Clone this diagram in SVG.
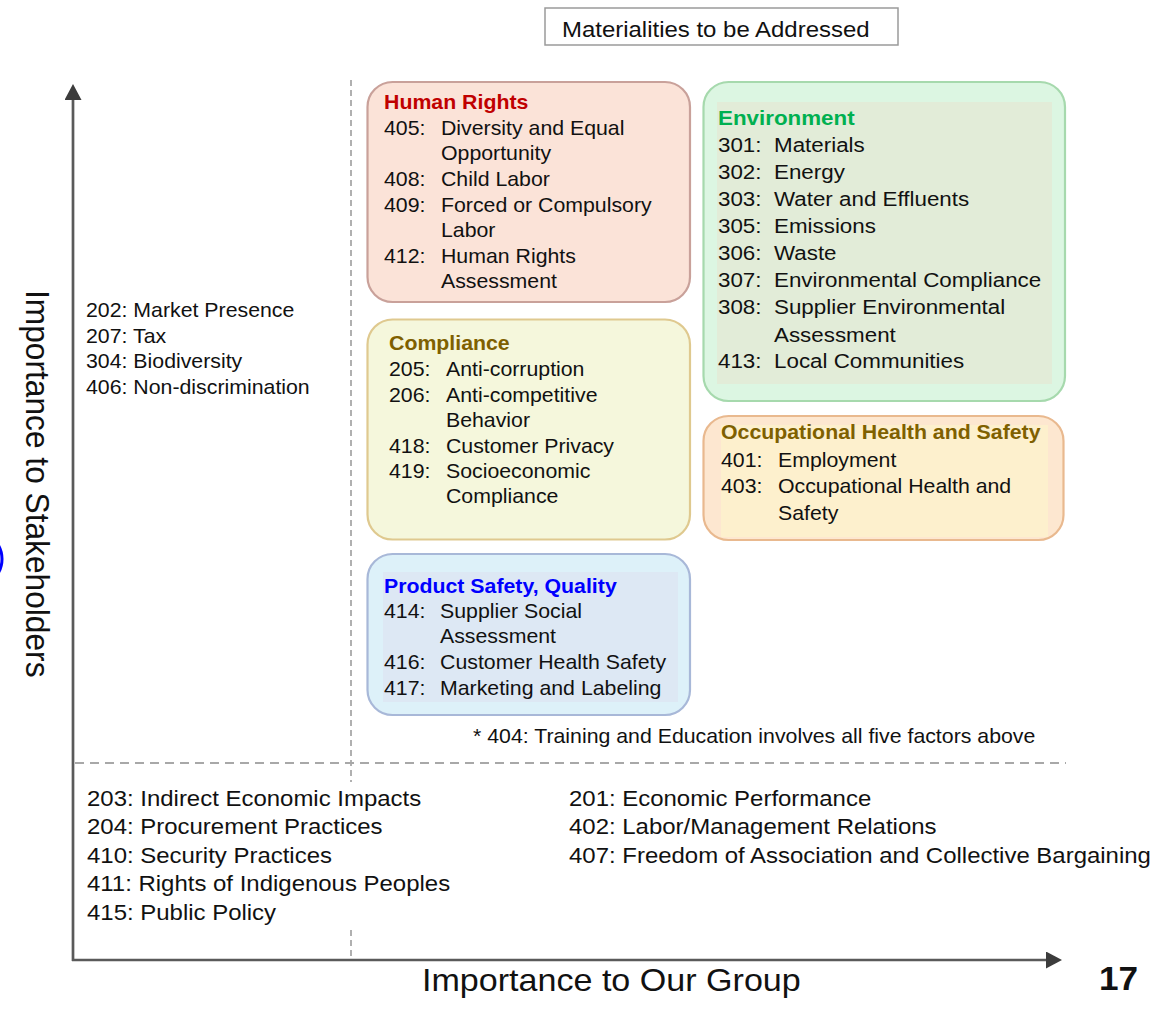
<svg xmlns="http://www.w3.org/2000/svg" width="1163" height="1013" viewBox="0 0 1163 1013">
  <style>
    text { font-family: "Liberation Sans", Arial, sans-serif; fill: #111; }
    .t20 { font-size: 20px; }
    .t21 { font-size: 21px; }
    .t22 { font-size: 22.5px; }
    .title { font-weight: bold; }
    .axis { stroke: #5a5a5a; stroke-width: 2.7; fill: none; }
    .grid-v { stroke: #b0b0b0; stroke-width: 2; stroke-dasharray: 6 4; fill: none; }
    .grid-h { stroke: #a8a8a8; stroke-width: 2; stroke-dasharray: 9 6; fill: none; }
    .box { stroke-width: 2.2; }
  </style>
  <defs>
    <marker id="arrow" markerUnits="userSpaceOnUse" markerWidth="17" markerHeight="17" refX="1" refY="8.5" orient="auto">
      <path d="M0,0 L16,8.5 L0,17 z" fill="#3c3c3c"/>
    </marker>
  </defs>

  <rect width="1163" height="1013" fill="#ffffff"/>

  <!-- quadrant guides and axes -->
  <g id="axes">
    <line class="grid-v" x1="351" y1="80" x2="351" y2="960"/>
    <line class="grid-h" x1="75" y1="763" x2="1066" y2="763"/>
    <line class="axis" x1="73" y1="961" x2="73" y2="99" marker-end="url(#arrow)"/>
    <line class="axis" x1="72" y1="960" x2="1047" y2="960" marker-end="url(#arrow)"/>
  </g>

  <!-- partial blue ring at the left edge -->
  <circle cx="-26" cy="559" r="28" fill="none" stroke="#0000ff" stroke-width="3"/>

  <!-- heading box -->
  <g id="heading">
    <rect x="545" y="8" width="353" height="37" fill="#ffffff" stroke="#9a9a9a" stroke-width="1.5"/>
    <g transform="translate(562,0) scale(1.065 1)">
      <text class="t22" x="0" y="37">Materialities to be Addressed</text>
    </g>
  </g>

  <!-- axis labels -->
  <g id="axis-labels">
    <g transform="translate(26,290) scale(1.065 1) rotate(90)">
      <text x="0" y="0" style="font-size:31.7px">Importance to Stakeholders</text>
    </g>
    <g transform="translate(422,0) scale(1.065 1)">
      <text x="0" y="991" style="font-size:32px">Importance to Our Group</text>
    </g>
    <g transform="translate(1099,0) scale(1.065 1)">
      <text x="0" y="990.5" style="font-size:33px;font-weight:bold">17</text>
    </g>
  </g>

  <!-- upper-left quadrant list -->
  <g id="upper-left">
    <g transform="translate(86,0) scale(1.065 1)">
      <text class="t20" x="0" y="317">202: Market Presence</text>
      <text class="t20" x="0" y="343">207: Tax</text>
      <text class="t20" x="0" y="368">304: Biodiversity</text>
      <text class="t20" x="0" y="394">406: Non-discrimination</text>
    </g>
  </g>

  <!-- Human Rights -->
  <g id="human-rights">
    <rect class="box" x="367.5" y="82" width="322.5" height="220" rx="25" fill="#fbe3d8" stroke="#c9a19a"/>
    <g transform="translate(384,0) scale(1.065 1)">
      <text class="t20 title" x="0" y="109.3" style="fill:#c00000">Human Rights</text>
      <text class="t20" x="0" y="135">405:</text><text class="t20" x="53.5" y="135">Diversity and Equal</text>
      <text class="t20" x="53.5" y="160.5">Opportunity</text>
      <text class="t20" x="0" y="186">408:</text><text class="t20" x="53.5" y="186">Child Labor</text>
      <text class="t20" x="0" y="211.7">409:</text><text class="t20" x="53.5" y="211.7">Forced or Compulsory</text>
      <text class="t20" x="53.5" y="236.7">Labor</text>
      <text class="t20" x="0" y="262.7">412:</text><text class="t20" x="53.5" y="262.7">Human Rights</text>
      <text class="t20" x="53.5" y="288">Assessment</text>
    </g>
  </g>

  <!-- Environment -->
  <g id="environment">
    <rect class="box" x="703.5" y="82" width="361.5" height="319" rx="25" fill="#dcf6e2" stroke="#a6d9ad"/>
    <rect x="717" y="102" width="335" height="282" fill="#e2ecd8"/>
    <g transform="translate(718,0) scale(1.065 1)">
      <text class="t21 title" x="0" y="125" style="fill:#00b050">Environment</text>
      <text class="t21" x="0" y="151.7">301:</text><text class="t21" x="52.6" y="151.7">Materials</text>
      <text class="t21" x="0" y="179">302:</text><text class="t21" x="52.6" y="179">Energy</text>
      <text class="t21" x="0" y="206">303:</text><text class="t21" x="52.6" y="206">Water and Effluents</text>
      <text class="t21" x="0" y="232.7">305:</text><text class="t21" x="52.6" y="232.7">Emissions</text>
      <text class="t21" x="0" y="260">306:</text><text class="t21" x="52.6" y="260">Waste</text>
      <text class="t21" x="0" y="287">307:</text><text class="t21" x="52.6" y="287">Environmental Compliance</text>
      <text class="t21" x="0" y="314">308:</text><text class="t21" x="52.6" y="314">Supplier Environmental</text>
      <text class="t21" x="52.6" y="341.7">Assessment</text>
      <text class="t21" x="0" y="368">413:</text><text class="t21" x="52.6" y="368">Local Communities</text>
    </g>
  </g>

  <!-- Compliance -->
  <g id="compliance">
    <rect class="box" x="367.5" y="319.5" width="322.5" height="220" rx="25" fill="#f5f7dc" stroke="#dfc98f"/>
    <g transform="translate(389,0) scale(1.065 1)">
      <text class="t20 title" x="0" y="350" style="fill:#7f6000">Compliance</text>
      <text class="t20" x="0" y="376">205:</text><text class="t20" x="53.5" y="376">Anti-corruption</text>
      <text class="t20" x="0" y="401.7">206:</text><text class="t20" x="53.5" y="401.7">Anti-competitive</text>
      <text class="t20" x="53.5" y="426.7">Behavior</text>
      <text class="t20" x="0" y="452.7">418:</text><text class="t20" x="53.5" y="452.7">Customer Privacy</text>
      <text class="t20" x="0" y="477.7">419:</text><text class="t20" x="53.5" y="477.7">Socioeconomic</text>
      <text class="t20" x="53.5" y="503.3">Compliance</text>
    </g>
  </g>

  <!-- Occupational Health and Safety -->
  <g id="occupational-health">
    <rect class="box" x="703.5" y="416" width="360" height="124" rx="25" fill="#fde7d0" stroke="#e9b98f"/>
    <rect x="721" y="425" width="327" height="112" fill="#fdf0cd"/>
    <g transform="translate(721,0) scale(1.065 1)">
      <text class="t20 title" x="0" y="439.3" style="fill:#7f6000">Occupational Health and Safety</text>
      <text class="t20" x="0" y="467.3">401:</text><text class="t20" x="53.5" y="467.3">Employment</text>
      <text class="t20" x="0" y="493.3">403:</text><text class="t20" x="53.5" y="493.3">Occupational Health and</text>
      <text class="t20" x="53.5" y="520">Safety</text>
    </g>
  </g>

  <!-- Product Safety, Quality -->
  <g id="product-safety">
    <rect class="box" x="367.5" y="554" width="322.5" height="161" rx="25" fill="#ddf1f9" stroke="#a8b8d8"/>
    <rect x="383" y="572" width="295" height="130" fill="#dde8f4"/>
    <g transform="translate(384,0) scale(1.065 1)">
      <text class="t20 title" x="0" y="592.7" style="fill:#0000ff">Product Safety, Quality</text>
      <text class="t20" x="0" y="618.3">414:</text><text class="t20" x="52.6" y="618.3">Supplier Social</text>
      <text class="t20" x="52.6" y="643.3">Assessment</text>
      <text class="t20" x="0" y="669.3">416:</text><text class="t20" x="52.6" y="669.3">Customer Health Safety</text>
      <text class="t20" x="0" y="695">417:</text><text class="t20" x="52.6" y="695">Marketing and Labeling</text>
    </g>
  </g>

  <!-- footnote -->
  <g id="footnote">
    <g transform="translate(473,0) scale(1.065 1)">
      <text class="t20" x="0" y="742.7">* 404: Training and Education involves all five factors above</text>
    </g>
  </g>

  <!-- lower-left quadrant list -->
  <g id="lower-left">
    <rect x="80" y="782" width="376" height="146" fill="#ffffff"/>
    <g transform="translate(87,0) scale(1.065 1)">
      <text class="t22" x="0" y="806">203: Indirect Economic Impacts</text>
      <text class="t22" x="0" y="834">204: Procurement Practices</text>
      <text class="t22" x="0" y="862.7">410: Security Practices</text>
      <text class="t22" x="0" y="891">411: Rights of Indigenous Peoples</text>
      <text class="t22" x="0" y="920">415: Public Policy</text>
    </g>
  </g>

  <!-- lower-right quadrant list -->
  <g id="lower-right">
    <g transform="translate(569,0) scale(1.065 1)">
      <text class="t22" x="0" y="806">201: Economic Performance</text>
      <text class="t22" x="0" y="834">402: Labor/Management Relations</text>
      <text class="t22" x="0" y="863">407: Freedom of Association and Collective Bargaining</text>
    </g>
  </g>
</svg>
